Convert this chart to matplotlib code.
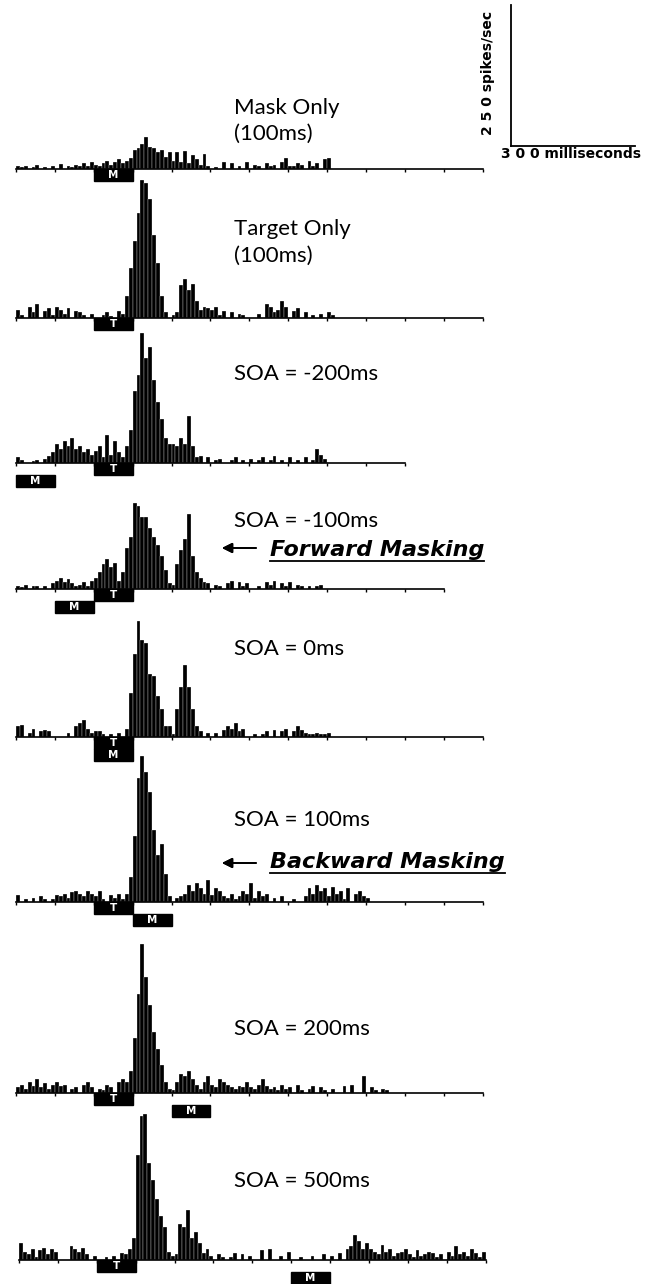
import numpy as np
import matplotlib.pyplot as plt
from matplotlib.patches import Rectangle
from matplotlib.lines import Line2D

# PSTH rates in spikes/sec, 10 ms bins starting at 0 ms
mask_only = [5, 3, 6, 0, 4, 8, 0, 3, 0, 6,
             0, 9, 0, 5, 4, 8, 6, 10, 5, 12,
             8, 6, 10, 14, 8, 12, 18, 10, 15, 20,
             35, 38, 45, 58, 40, 38, 30, 35, 22, 30,
             15, 30, 12, 32, 10, 25, 18, 8, 28, 5,
             0, 3, 0, 12, 0, 10, 0, 6, 0, 12,
             0, 8, 6, 0, 10, 5, 8, 0, 12, 20,
             5, 6, 10, 8, 0, 14, 6, 10, 0, 18,
             20]
target_only = [15, 5, 0, 20, 10, 25, 0, 12, 18, 5,
               20, 15, 8, 18, 0, 12, 10, 5, 0, 8,
               0, 0, 6, 10, 4, 0, 12, 8, 40, 90,
               140, 190, 250, 245, 215, 150, 100, 40, 10, 0,
               5, 10, 60, 70, 50, 62, 30, 15, 20, 18,
               15, 20, 5, 12, 0, 10, 0, 8, 5, 0,
               0, 0, 8, 0, 25, 20, 10, 15, 30, 20,
               0, 12, 18, 0, 10, 0, 6, 0, 8, 0,
               10, 5]
soa_m200 = [10, 5, 0, 0, 4, 6, 0, 8, 12, 20,
            35, 25, 40, 30, 45, 25, 30, 20, 25, 15,
            22, 30, 10, 50, 15, 40, 20, 10, 30, 60,
            130, 160, 235, 190, 210, 150, 110, 80, 45, 35,
            35, 30, 45, 35, 85, 30, 10, 12, 0, 10,
            0, 5, 8, 0, 0, 6, 10, 0, 6, 0,
            8, 0, 5, 10, 0, 6, 12, 0, 5, 0,
            10, 0, 6, 0, 10, 0, 5, 25, 15, 8]
soa_m100 = [6, 3, 8, 0, 5, 6, 0, 5, 0, 10,
            15, 20, 12, 18, 10, 6, 8, 12, 6, 15,
            20, 30, 45, 55, 40, 48, 15, 30, 75, 95,
            155, 150, 130, 130, 110, 95, 80, 60, 35, 10,
            8, 45, 70, 90, 135, 60, 30, 20, 12, 10,
            0, 8, 5, 0, 10, 15, 0, 12, 6, 10,
            0, 0, 5, 0, 12, 8, 15, 0, 10, 6,
            12, 0, 8, 5, 0, 6, 0, 5, 8, 0]
soa_0 = [20, 22, 0, 8, 15, 0, 10, 12, 10, 0,
         0, 0, 0, 8, 0, 20, 25, 30, 15, 8,
         10, 10, 5, 0, 6, 0, 8, 0, 15, 80,
         150, 210, 175, 170, 115, 110, 75, 50, 20, 20,
         5, 50, 90, 130, 90, 50, 20, 10, 0, 8,
         0, 8, 0, 12, 20, 15, 25, 10, 15, 0,
         0, 5, 0, 6, 10, 0, 12, 0, 10, 15,
         0, 10, 20, 12, 8, 6, 5, 8, 6, 5,
         8, 0]
soa_100 = [12, 0, 5, 0, 8, 0, 10, 5, 0, 6,
           12, 10, 15, 8, 18, 20, 15, 10, 20, 15,
           10, 20, 5, 0, 12, 8, 15, 5, 15, 45,
           120, 225, 265, 235, 200, 130, 85, 105, 50, 10,
           0, 8, 10, 15, 30, 20, 35, 25, 15, 40,
           12, 25, 20, 10, 8, 15, 6, 10, 20, 15,
           35, 8, 20, 10, 15, 0, 8, 0, 10, 0,
           0, 5, 0, 0, 10, 25, 15, 30, 20, 25,
           10, 28, 15, 20, 5, 25, 0, 15, 20, 10,
           8]
soa_200 = [10, 15, 8, 20, 12, 25, 10, 18, 8, 15,
           20, 12, 15, 0, 8, 10, 0, 15, 20, 10,
           0, 8, 5, 15, 10, 0, 20, 25, 20, 40,
           100, 180, 270, 210, 160, 110, 80, 50, 20, 8,
           5, 20, 35, 30, 40, 25, 15, 8, 20, 30,
           15, 10, 25, 20, 15, 10, 8, 12, 10, 20,
           10, 8, 15, 25, 12, 8, 10, 5, 15, 8,
           10, 0, 15, 6, 0, 8, 12, 0, 10, 5,
           0, 8, 0, 0, 12, 0, 15, 0, 0, 30,
           0, 10, 6, 0, 8, 5]
soa_500 = [30, 15, 10, 20, 5, 18, 22, 10, 20, 15,
           0, 0, 0, 25, 20, 15, 22, 10, 0, 8,
           0, 0, 5, 0, 8, 0, 12, 10, 20, 40,
           190, 260, 265, 175, 145, 110, 80, 60, 15, 8,
           10, 65, 60, 90, 40, 50, 30, 12, 20, 8,
           0, 10, 5, 0, 6, 12, 0, 10, 0, 8,
           0, 0, 18, 0, 20, 0, 0, 8, 0, 15,
           0, 0, 6, 0, 0, 8, 0, 0, 10, 0,
           8, 0, 12, 0, 20, 25, 45, 35, 20, 30,
           20, 15, 10, 28, 15, 20, 8, 12, 15, 20,
           10, 5, 18, 8, 10, 15, 12, 5, 10, 0,
           15, 8, 25, 10, 15, 8, 20, 12, 6, 15]

panel_rates = [mask_only, target_only, soa_m200, soa_m100,
               soa_0, soa_100, soa_200, soa_500]
panel_titles = ["Mask Only\n(100ms)", "Target Only\n(100ms)", "SOA = -200ms", "SOA = -100ms",
                "SOA = 0ms", "SOA = 100ms", "SOA = 200ms", "SOA = 500ms"]
axis_end_ms = [1200, 1200, 1000, 1100, 1200, 1200, 1200, 1200]
# (label, onset ms, row below axis)
stimuli = [[("M", 200, 0)],
           [("T", 200, 0)],
           [("T", 200, 0), ("M", 0, 1)],
           [("T", 200, 0), ("M", 100, 1)],
           [("T", 200, 0), ("M", 200, 1)],
           [("T", 200, 0), ("M", 300, 1)],
           [("T", 200, 0), ("M", 400, 1)],
           [("T", 200, 0), ("M", 700, 1)]]

W, H = 646, 1284
BIN = 10
PX_PER_RATE = 138 / 250.0
baselines = [169, 318, 463, 589, 737, 902, 1093, 1260]
left_px = [16, 16, 16, 16, 16, 16, 16, 19]
title_y = [(108, 134), (229, 256), (374,), (521,), (649,), (820,), (1029,), (1181,)]

fig = plt.figure(figsize=(W / 100, H / 100), dpi=100)
AX_H = 175


def fx(x):
    return x / W


def fy(y):
    return 1 - y / H


for i, rates in enumerate(panel_rates):
    base = baselines[i]
    ax = fig.add_axes([fx(left_px[i]), fy(base), 466.5 / W, AX_H / H])
    ax.patch.set_visible(False)
    ax.set_xlim(0, 1200)
    ax.set_ylim(0, AX_H / PX_PER_RATE)
    t = np.arange(len(rates)) * BIN
    ax.bar(t, rates, width=BIN, align='edge', color='black',
           edgecolor='white', linewidth=0.2)
    for s in ['top', 'left', 'right']:
        ax.spines[s].set_visible(False)
    ax.spines['bottom'].set_bounds(0, axis_end_ms[i])
    ax.spines['bottom'].set_linewidth(1.2)
    ax.set_xticks(np.arange(0, axis_end_ms[i] + 1, 100))
    ax.set_xticklabels([])
    ax.set_yticks([])
    ax.tick_params(axis='x', length=2.5, width=1, direction='out')

    box_h = 12 / PX_PER_RATE
    for lab, on, row in stimuli[i]:
        y0 = -(row + 1) * box_h
        ax.add_patch(Rectangle((on, y0), 100, box_h, color='black', clip_on=False))
        ax.text(on + 50, y0 + box_h / 2, lab, color='white', fontweight='bold',
                fontsize=7.5, ha='center', va='center', clip_on=False)

    for line, yy in zip(panel_titles[i].split("\n"), title_y[i]):
        fig.text(fx(234), fy(yy), line, fontsize=16, family='Lato',
                 ha='left', va='center')

# scale bar
sax = fig.add_axes([fx(511), fy(146), 124 / W, 141 / H])
sax.patch.set_visible(False)
for s in ['top', 'right']:
    sax.spines[s].set_visible(False)
for s in ['left', 'bottom']:
    sax.spines[s].set_linewidth(1.3)
sax.set_xticks([])
sax.set_yticks([])
fig.text(fx(488), fy(73), "2 5 0 spikes/sec", rotation=90, fontsize=10,
         fontweight='bold', ha='center', va='center')
fig.text(fx(571), fy(154), "3 0 0 milliseconds", fontsize=10,
         fontweight='bold', ha='center', va='center')

# masking annotations
notes = [("Forward Masking", 548, 556), ("Backward Masking", 863, 868)]
note_texts = []
for label, arrow_y, base_y in notes:
    fig.add_artist(plt.annotate("", xy=(fx(222), fy(arrow_y)), xytext=(fx(256), fy(arrow_y)),
                                xycoords='figure fraction', textcoords='figure fraction',
                                arrowprops=dict(arrowstyle='-|>', color='black', lw=1.3,
                                                mutation_scale=15, shrinkA=0, shrinkB=0)))
    t = fig.text(fx(270), fy(base_y), label, fontsize=16, fontweight='bold',
                 style='italic', ha='left', va='baseline')
    note_texts.append((t, base_y))

fig.canvas.draw()
for t, base_y in note_texts:
    bb = t.get_window_extent().transformed(fig.transFigure.inverted())
    fig.add_artist(Line2D([bb.x0, bb.x1], [fy(base_y + 5)] * 2,
                          transform=fig.transFigure, color='black', lw=1.3))

fig.savefig("out.png", dpi=100)
